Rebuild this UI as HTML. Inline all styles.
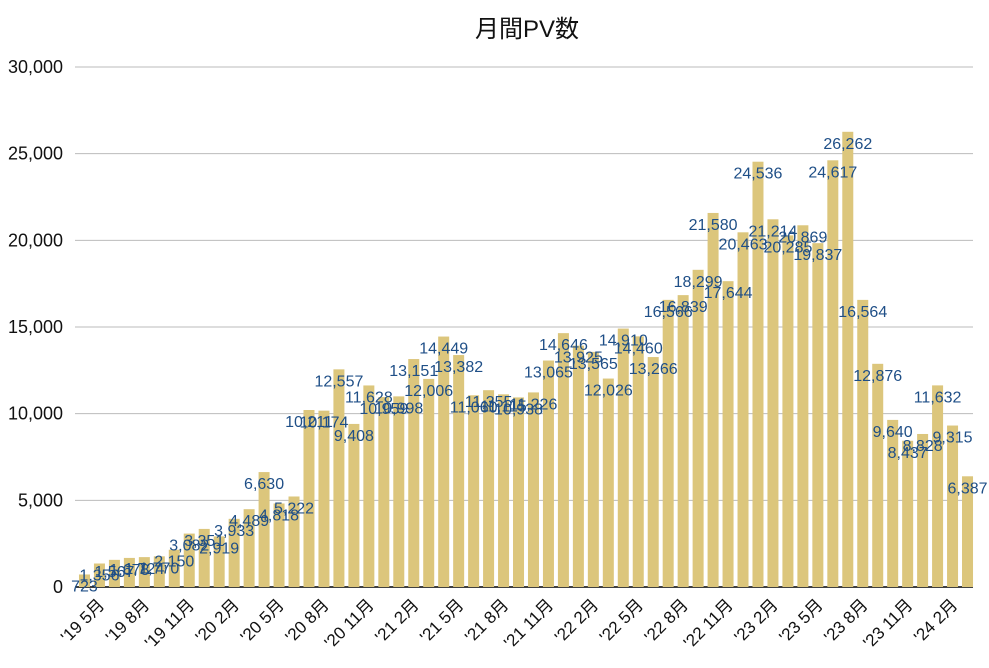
<!DOCTYPE html>
<html><head><meta charset="utf-8"><style>
body{margin:0;background:#fff;}
svg{display:block;font-family:"Liberation Sans","Noto Sans CJK JP",sans-serif;}
</style></head><body>
<svg id="c" width="989" height="668">
<text x="527" y="37" text-anchor="middle" font-size="24" fill="#111">月間PV数</text>
<g id="grid"></g><g id="bars"></g><g id="labels"></g><g id="xt"></g>
</svg>
<script>
const values=[723,1356,1567,1678,1724,1770,2150,3082,3351,2919,3933,4489,6630,4818,5222,10211,10174,12557,9408,11628,10959,10998,13151,12006,14449,13382,11060,11355,11115,10938,11226,13065,14646,13925,13565,12026,14910,14460,13266,16566,16839,18299,21580,17644,20463,24536,21214,20285,20869,19837,24617,26262,16564,12876,9640,8437,8828,11632,9315,6387];
const yTicks=[0,5000,10000,15000,20000,25000,30000];
const startYear=2019, startMonth=4;
const NS="http://www.w3.org/2000/svg";
const x0=77,x1=975,y0=587,y1=67,yMax=30000;
const band=(x1-x0)/values.length;
function xs(i){return x0+band*(i+0.5);}
function ys(v){return y0-(v/yMax)*(y0-y1);}
function mk(t,a,p){const e=document.createElementNS(NS,t);for(const k in a)e.setAttribute(k,a[k]);p.appendChild(e);return e;}
const grid=document.getElementById('grid');
yTicks.forEach(v=>{
 const l=mk('line',{x1:75,x2:973,y1:ys(v),y2:ys(v),stroke:v===0?'#000':'#bbb','stroke-width':v===0?1.5:1},grid);
 
 
 const t=mk('text',{x:63,y:ys(v)+6,'text-anchor':'end','font-size':18,fill:'#111'},grid);
 t.textContent=v.toLocaleString('en-US');
 
 
});
const bars=document.getElementById('bars'),labels=document.getElementById('labels'),xt=document.getElementById('xt');
values.forEach((v,i)=>{
 const w=11;
 const r=mk('rect',{x:xs(i)-w/2,y:ys(v),width:w,height:y0-ys(v),fill:'#dcc67c'},bars);
 
 
 const t=mk('text',{x:xs(i),y:ys(v)+17,'text-anchor':'middle','font-size':16,fill:'#1f4f87'},labels);
 t.textContent=v.toLocaleString('en-US');
 
 
 const m=(startMonth-1+i)%12+1, y=startYear+Math.floor((startMonth-1+i)/12);
 if(i%3===1){
  const tx=xs(i)+6, ty=606;
  const l=mk('text',{x:tx,y:ty,'text-anchor':'end','font-size':17,fill:'#111',transform:`rotate(-45 ${tx} ${ty})`},xt);
  l.textContent="'"+String(y).slice(2)+" "+m+"月";
  
  
 }
});
</script>
</body></html>
